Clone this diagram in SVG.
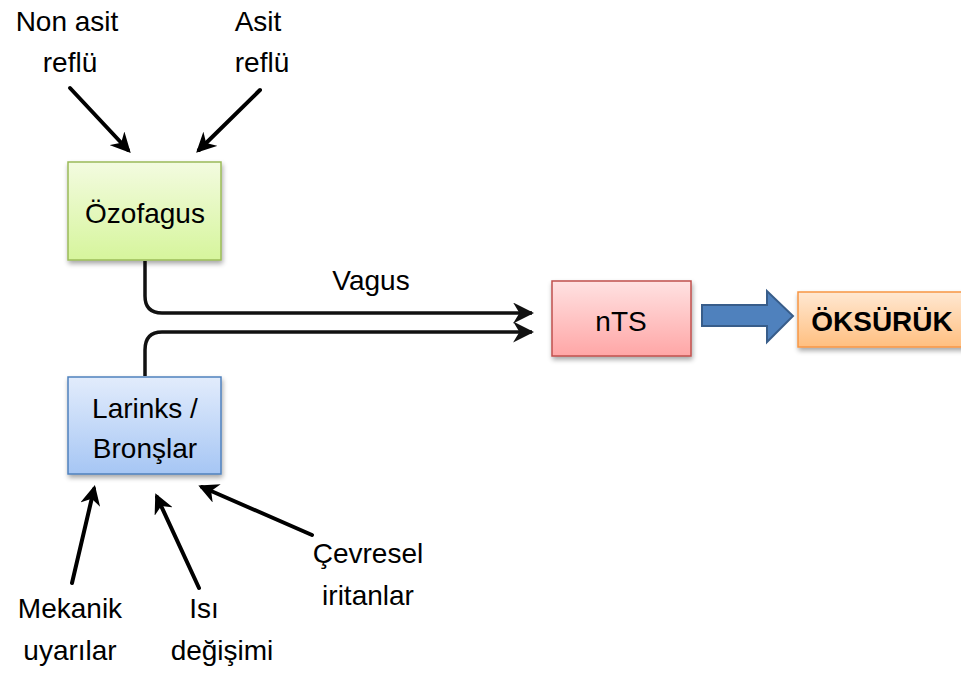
<svg xmlns="http://www.w3.org/2000/svg" width="961" height="673" viewBox="0 0 961 673">
<style>
text{font-family:"Liberation Sans",Arial,sans-serif;fill:#000;text-anchor:middle}
.lbl{font-size:28px}
.box{stroke-width:1.5}
.con{fill:none;stroke:#000;stroke-width:4;stroke-linecap:round}
.vag{fill:none;stroke:#111;stroke-width:3.5}
</style>
<defs>
<linearGradient id="gG" x1="0" y1="0" x2="0" y2="1"><stop offset="0" stop-color="#f3fbe0"/><stop offset="1" stop-color="#d6f59c"/></linearGradient>
<linearGradient id="gB" x1="0" y1="0" x2="0" y2="1"><stop offset="0" stop-color="#e2ecfc"/><stop offset="1" stop-color="#a6c6f4"/></linearGradient>
<linearGradient id="gR" x1="0" y1="0" x2="0" y2="1"><stop offset="0" stop-color="#ffe2e2"/><stop offset="1" stop-color="#ffa6a6"/></linearGradient>
<linearGradient id="gO" x1="0" y1="0" x2="0" y2="1"><stop offset="0" stop-color="#ffe8d2"/><stop offset="1" stop-color="#ffbf80"/></linearGradient>
<filter id="sh" x="-10%" y="-10%" width="130%" height="130%"><feGaussianBlur in="SourceAlpha" stdDeviation="2.5"/><feOffset dx="1" dy="3"/><feComponentTransfer><feFuncA type="linear" slope="0.35"/></feComponentTransfer><feMerge><feMergeNode/><feMergeNode in="SourceGraphic"/></feMerge></filter>
<marker id="ah" viewBox="0 0 10 10" refX="8" refY="5" markerWidth="5" markerHeight="5" orient="auto" markerUnits="strokeWidth"><path d="M0,0 L10,5 L0,10 L3,5 Z" fill="#000"/></marker>
<marker id="ah2" viewBox="0 0 10 10" refX="9" refY="5" markerWidth="6" markerHeight="6" orient="auto" markerUnits="strokeWidth"><path d="M0,0 L10,5 L0,10 L3,5 Z" fill="#111"/></marker>
</defs>

<g id="connectors">
<path class="vag" d="M145,261 V296 Q145,313 162,313 H532" marker-end="url(#ah2)"/>
<path class="vag" d="M145,376 V350 Q145,332 162,332 H532" marker-end="url(#ah2)"/>
<line class="con" x1="70" y1="88" x2="128" y2="150" marker-end="url(#ah)"/>
<line class="con" x1="260" y1="90" x2="199" y2="150" marker-end="url(#ah)"/>
<line class="con" x1="72" y1="583" x2="94" y2="489" marker-end="url(#ah)"/>
<line class="con" x1="199" y1="588" x2="157" y2="497" marker-end="url(#ah)"/>
<line class="con" x1="312" y1="535" x2="202" y2="487" marker-end="url(#ah)"/>
<path id="bigArrow" d="M702,305 H767 V291 L793,316 L767,342 V326 H702 Z" fill="#4f81bd" stroke="#385d8a" stroke-width="2"/>
</g>

<g id="ozofagus">
<rect class="box" x="68" y="162" width="153" height="98" fill="url(#gG)" stroke="#9bbb59" filter="url(#sh)"/>
<text class="lbl" x="145" y="223">Özofagus</text>
</g>
<g id="larinks">
<rect class="box" x="68" y="377" width="153" height="97" fill="url(#gB)" stroke="#4f81bd" filter="url(#sh)"/>
<text class="lbl" x="145" y="418">Larinks /</text>
<text class="lbl" x="145" y="458">Bronşlar</text>
</g>
<g id="nts">
<rect class="box" x="552" y="281" width="139" height="75" fill="url(#gR)" stroke="#c0504d" filter="url(#sh)"/>
<text class="lbl" x="621" y="331">nTS</text>
</g>
<g id="oksuruk">
<rect class="box" x="798" y="292" width="170" height="55" fill="url(#gO)" stroke="#f79646" filter="url(#sh)"/>
<text x="882" y="331" style="font-size:28px;font-weight:bold">ÖKSÜRÜK</text>
</g>

<g id="labels">
<text class="lbl" x="371" y="290">Vagus</text>
<text class="lbl" x="67" y="31">Non asit</text>
<text class="lbl" x="70" y="72">reflü</text>
<text class="lbl" x="258" y="31">Asit</text>
<text class="lbl" x="262" y="72">reflü</text>
<text class="lbl" x="70" y="618">Mekanik</text>
<text class="lbl" x="70" y="660">uyarılar</text>
<text class="lbl" x="204" y="618">Isı</text>
<text class="lbl" x="222" y="660">değişimi</text>
<text class="lbl" x="368" y="563">Çevresel</text>
<text class="lbl" x="368" y="605">iritanlar</text>
</g>
</svg>
